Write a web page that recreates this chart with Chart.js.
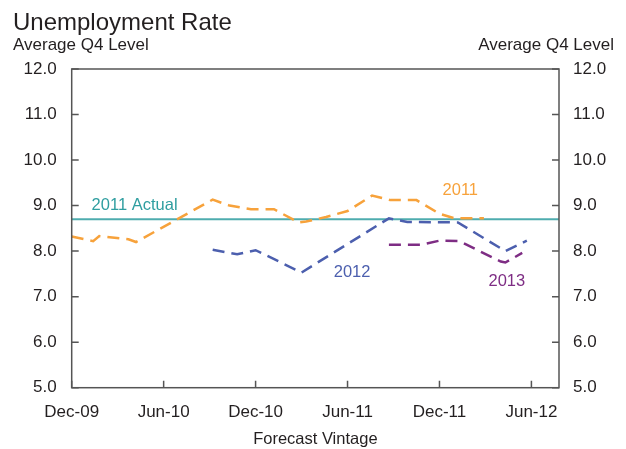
<!DOCTYPE html>
<html>
<head>
<meta charset="utf-8">
<script src="https://cdn.jsdelivr.net/npm/chart.js@4.4.0/dist/chart.umd.min.js"></script>
<style>
  body { margin: 0; background: #fff; }
  canvas { display: block; }
</style>
</head>
<body>
<canvas id="unemployment" width="626" height="449"></canvas>
<script>
// x values are months after Dec-09 (forecast vintage)
const tickMonths = [0, 6, 12, 18, 24, 30];
const tickLabels = ['Dec-09', 'Jun-10', 'Dec-10', 'Jun-11', 'Dec-11', 'Jun-12'];

const vintage2011 = [0, 1.4, 1.8, 3.7, 4.2, 9.2, 10.3, 11.7, 13.2, 14.8, 15.3, 16.6, 18.0, 19.6, 20.8, 22.5, 24.0, 25.0, 26.9];
const forecast2011 = [8.32, 8.22, 8.33, 8.26, 8.2, 9.13, 9.0, 8.92, 8.92, 8.63, 8.65, 8.75, 8.88, 9.22, 9.12, 9.12, 8.82, 8.72, 8.72];

const vintage2012 = [9.2, 10.8, 12.0, 15.0, 20.7, 21.9, 25.2, 28.3, 29.7];
const forecast2012 = [8.03, 7.93, 8.02, 7.53, 8.72, 8.64, 8.63, 8.0, 8.23];

const vintage2013 = [20.7, 22.8, 24.0, 25.3, 28.0, 28.3, 29.4];
const forecast2013 = [8.14, 8.14, 8.23, 8.22, 7.77, 7.75, 7.96];

const actualVintage = [0, 31.8];
const actual2011 = [8.7, 8.7];

// series labels placed in data units
const seriesLabels = [
    { text: '2011 Actual', x: 1.3, y: 8.91, color: '#2f9ea0' },
    { text: '2011', x: 24.2, y: 9.24, color: '#f7a23b' },
    { text: '2012', x: 17.1, y: 7.44, color: '#4c5fae' },
    { text: '2013', x: 27.2, y: 7.24, color: '#7e2d84' }
];

const FONT = "'Liberation Sans', Arial, sans-serif";
const TEXT = '#231f20';

function points(xs, ys) {
    return xs.map((x, i) => ({ x: x, y: ys[i] }));
}

function dashed(label, xs, ys, color) {
    return {
        label: label,
        data: points(xs, ys),
        borderColor: color,
        borderWidth: 2.5,
        borderDash: [12, 7],
        pointRadius: 0,
        tension: 0,
        fill: false
    };
}

const framePlugin = {
    id: 'frame',
    afterDraw(chart) {
        const { ctx, chartArea: a, scales } = chart;
        ctx.save();
        ctx.strokeStyle = '#555555';
        ctx.lineWidth = 1.5;
        ctx.strokeRect(a.left, a.top, a.right - a.left, a.bottom - a.top);

        // inward tick marks
        ctx.beginPath();
        scales.y.ticks.forEach(t => {
            const py = scales.y.getPixelForValue(t.value);
            ctx.moveTo(a.left, py); ctx.lineTo(a.left + 7, py);
            ctx.moveTo(a.right, py); ctx.lineTo(a.right - 7, py);
        });
        scales.x.ticks.forEach(t => {
            const px = scales.x.getPixelForValue(t.value);
            ctx.moveTo(px, a.bottom); ctx.lineTo(px, a.bottom - 7);
        });
        ctx.stroke();

        // headings
        ctx.fillStyle = TEXT;
        ctx.textBaseline = 'alphabetic';
        ctx.font = '24px ' + FONT;
        ctx.textAlign = 'left';
        ctx.fillText('Unemployment Rate', 13, 29.5);
        ctx.font = '17px ' + FONT;
        ctx.fillText('Average Q4 Level', 13, 50);
        ctx.textAlign = 'right';
        ctx.fillText('Average Q4 Level', 614, 50);

        // series labels
        ctx.textAlign = 'left';
        ctx.font = '16.5px ' + FONT;
        seriesLabels.forEach(l => {
            ctx.fillStyle = l.color;
            ctx.fillText(l.text, scales.x.getPixelForValue(l.x), scales.y.getPixelForValue(l.y));
        });
        ctx.restore();
    }
};

const yAxis = (position, pad, width) => ({
    type: 'linear',
    position: position,
    min: 5,
    max: 12,
    grid: { display: false, drawTicks: false },
    border: { display: false },
    ticks: {
        stepSize: 1,
        padding: pad,
        color: TEXT,
        font: { family: FONT, size: 17 },
        callback: v => v.toFixed(1)
    },
    afterFit: s => { s.width = width; }
});

new Chart(document.getElementById('unemployment'), {
    type: 'line',
    data: {
        datasets: [
            dashed('2011', vintage2011, forecast2011, '#f7a23b'),
            dashed('2012', vintage2012, forecast2012, '#4c5fae'),
            dashed('2013', vintage2013, forecast2013, '#7e2d84'),
            {
                label: '2011 Actual',
                data: points(actualVintage, actual2011),
                borderColor: 'rgba(47, 158, 160, 0.85)',
                borderWidth: 2,
                pointRadius: 0,
                tension: 0
            }
        ]
    },
    options: {
        responsive: false,
        animation: false,
        layout: { padding: { top: 69, left: 0, right: 0, bottom: 0 } },
        plugins: {
            legend: { display: false },
            tooltip: { enabled: false }
        },
        scales: {
            x: {
                type: 'linear',
                min: 0,
                max: 31.8,
                grid: { display: false, drawTicks: false },
                border: { display: false },
                afterBuildTicks: s => { s.ticks = tickMonths.map(v => ({ value: v })); },
                ticks: {
                    padding: 14,
                    maxRotation: 0,
                    autoSkip: false,
                    color: TEXT,
                    font: { family: FONT, size: 17 },
                    callback: v => tickLabels[tickMonths.indexOf(v)]
                },
                title: {
                    display: true,
                    text: 'Forecast Vintage',
                    color: TEXT,
                    font: { family: FONT, size: 16.5 },
                    padding: { top: 4, bottom: 0 }
                },
                afterFit: s => { s.height = 61.3; }
            },
            y: yAxis('left', 15, 71.7),
            y2: yAxis('right', 14, 67)
        }
    },
    plugins: [framePlugin]
});
</script>
</body>
</html>
